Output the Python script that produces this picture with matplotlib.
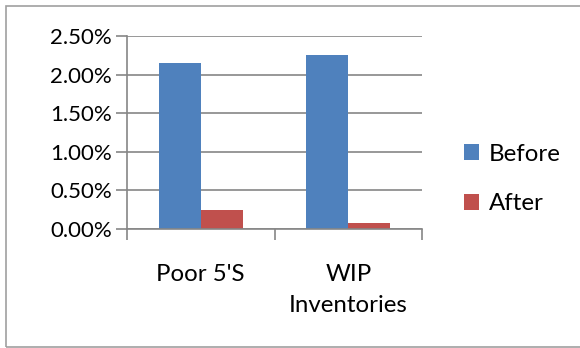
import matplotlib
matplotlib.use("Agg")
import matplotlib.pyplot as plt
from matplotlib.patches import Rectangle
from matplotlib.ticker import FuncFormatter, FixedLocator
import numpy as np

categories = ["Poor 5'S", "WIP\nInventories"]
before = [2.15, 2.25]
after = [0.25, 0.08]
series_names = ["Before", "After"]
y_ticks = [0.0, 0.5, 1.0, 1.5, 2.0, 2.5]

BLUE = "#4F81BD"
RED = "#C0504D"
GRID = "#868686"

plt.rcParams["font.family"] = ["Lato", "DejaVu Sans"]
FS = 17.3
FS_Y = 16

W, H = 580, 348
fig = plt.figure(figsize=(W / 100, H / 100), dpi=100)

# outer chart border
fig.patches.append(Rectangle((6 / W, 1 - 347 / H), 2.0, (347 - 6) / H,
                             transform=fig.transFigure, fill=False,
                             edgecolor="#A0A0A0", linewidth=1.2))

ax = fig.add_axes([127 / W, 1 - 229 / H, (422 - 127) / W, (229 - 36) / H])

x = np.arange(len(categories))
w = 1 / 3.5
ax.bar(x - w / 2, before, width=w, color=BLUE, label=series_names[0])
ax.bar(x + w / 2, after, width=w, color=RED, label=series_names[1])

ax.set_xlim(-0.5, len(categories) - 0.5)
ax.set_ylim(0, 2.5)
ax.yaxis.set_major_locator(FixedLocator(y_ticks))
ax.yaxis.set_major_formatter(FuncFormatter(lambda v, p: f"{v:.2f}%"))
ax.grid(axis="y", color=GRID, linewidth=1.2)
ax.set_axisbelow(True)

for s in ["top", "right"]:
    ax.spines[s].set_visible(False)
ax.spines["left"].set_color(GRID)
ax.spines["bottom"].set_color(GRID)
ax.spines["left"].set_linewidth(1.2)
ax.spines["bottom"].set_linewidth(1.2)

# category labels centred under bars, boundary ticks between categories
ax.set_xticks(x)
ax.set_xticklabels(categories, fontsize=FS, va="top", linespacing=1.6)
ax.tick_params(axis="x", length=0, pad=25)
ax.set_xticks([-0.5, 0.5, 1.5], minor=True)
ax.tick_params(axis="x", which="minor", length=8, color=GRID, width=1.2)
ax.tick_params(axis="y", length=8, color=GRID, width=1.2, labelsize=FS_Y, pad=3)

handles, labels = ax.get_legend_handles_labels()
fig.legend(handles, labels, loc="center left",
           bbox_to_anchor=(442 / W, 1 - 179 / H), frameon=False,
           fontsize=FS, handlelength=0.65, handleheight=0.65,
           handletextpad=0.4, labelspacing=1.2)

fig.savefig("out.png", dpi=100)
